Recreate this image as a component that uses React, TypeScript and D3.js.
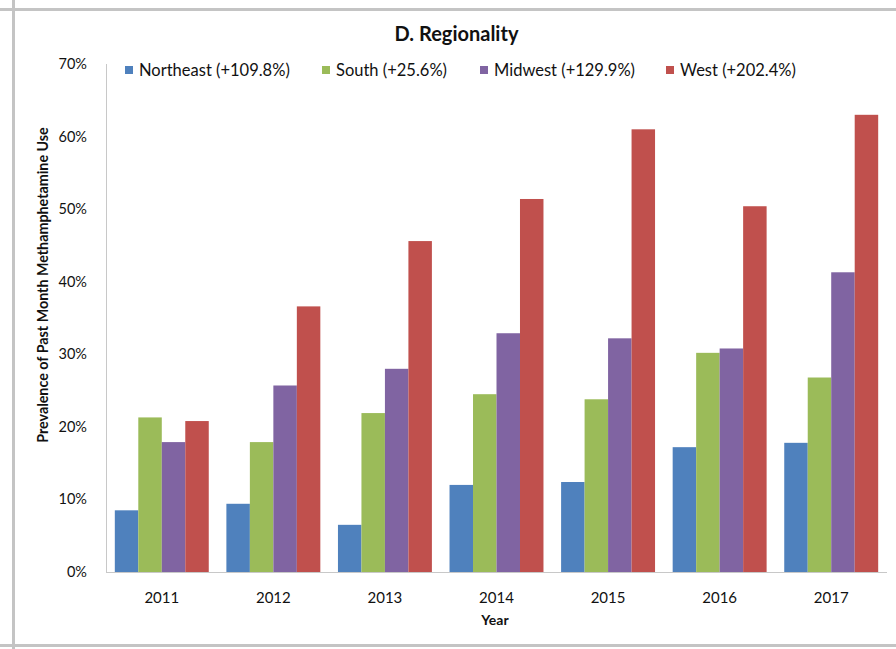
import React from "react";
import * as d3 from "d3";

const years = ["2011", "2012", "2013", "2014", "2015", "2016", "2017"];
const regions = ["Northeast", "South", "Midwest", "West"];
const legendLabels = [
  "Northeast (+109.8%)",
  "South (+25.6%)",
  "Midwest (+129.9%)",
  "West (+202.4%)",
];
const northeast = [8.5, 9.4, 6.5, 12.0, 12.4, 17.2, 17.8];
const south = [21.3, 17.9, 21.9, 24.5, 23.8, 30.2, 26.8];
const midwest = [17.9, 25.7, 28.0, 32.9, 32.2, 30.8, 41.3];
const west = [20.8, 36.6, 45.6, 51.4, 61.0, 50.4, 63.0];
const yTicks = [0, 10, 20, 30, 40, 50, 60, 70];
const colors = ["#4F81BD", "#9BBB59", "#8064A2", "#C0504D"];

const W = 896;
const H = 649;
const FONT = "Lato, 'Open Sans', sans-serif";

export default function App() {
  const series = [northeast, south, midwest, west];
  const left = 106;
  const right = 887;
  const top = 64;
  const bottom = 572;

  const x = d3
    .scaleBand<string>()
    .domain(years)
    .range([left, right])
    .paddingInner(0.158)
    .paddingOuter(0.079);
  const x1 = d3
    .scaleBand<string>()
    .domain(regions)
    .range([0, x.bandwidth()]);
  const y = d3.scaleLinear().domain([0, 70]).range([bottom, top]);

  const legendX = [125, 322, 480, 666];

  return (
    <svg
      width={W}
      height={H}
      style={{ position: "absolute", left: 0, top: 0, background: "#fff" }}
      fontFamily={FONT}
    >
      <rect x={0} y={0} width={W} height={H} fill="#fff" />
      {/* page frame */}
      <rect x={0} y={8} width={W} height={3} fill="#c4c4c4" />
      <rect x={12} y={0} width={3} height={H} fill="#c4c4c4" />
      <rect x={0} y={644} width={W} height={3} fill="#c4c4c4" />

      <text
        x={456.5}
        y={41}
        textAnchor="middle"
        fontSize={20}
        fontWeight="bold"
        fill="#111"
      >
        D. Regionality
      </text>

      {/* legend */}
      {legendLabels.map((lab, i) => (
        <g key={lab}>
          <rect x={legendX[i]} y={66} width={8} height={8} fill={colors[i]} />
          <text
            x={legendX[i] + 14}
            y={76}
            fontSize={16.5}
            fill="#111"
          >
            {lab}
          </text>
        </g>
      ))}

      {/* y ticks */}
      {yTicks.map((t) => (
        <text
          key={t}
          x={87}
          y={y(t) + 5}
          textAnchor="end"
          fontSize={14.5}
          fill="#111"
        >
          {`${t}%`}
        </text>
      ))}

      {/* bars */}
      {years.map((yr, i) => (
        <g key={yr} transform={`translate(${x(yr)},0)`}>
          {regions.map((r, j) => (
            <rect
              key={r}
              x={x1(r)}
              y={y(series[j][i])}
              width={x1.bandwidth()}
              height={bottom - y(series[j][i])}
              fill={colors[j]}
            />
          ))}
        </g>
      ))}

      {/* axes */}
      <line x1={left + 0.5} x2={left + 0.5} y1={top} y2={bottom} stroke="#c8c8c8" />
      <line x1={left} x2={right} y1={bottom + 0.5} y2={bottom + 0.5} stroke="#c8c8c8" />

      {years.map((yr) => (
        <text
          key={yr}
          x={(x(yr) as number) + x.bandwidth() / 2}
          y={603}
          textAnchor="middle"
          fontSize={15}
          fill="#111"
        >
          {yr}
        </text>
      ))}

      <text
        x={495}
        y={625}
        textAnchor="middle"
        fontSize={14}
        fontWeight="bold"
        fill="#111"
      >
        Year
      </text>
      <text
        transform={`translate(48,285) rotate(-90)`}
        textAnchor="middle"
        fontSize={14.3}
        fontWeight="bold"
        fill="#111"
      >
        Prevalence of Past Month Methamphetamine Use
      </text>
    </svg>
  );
}
